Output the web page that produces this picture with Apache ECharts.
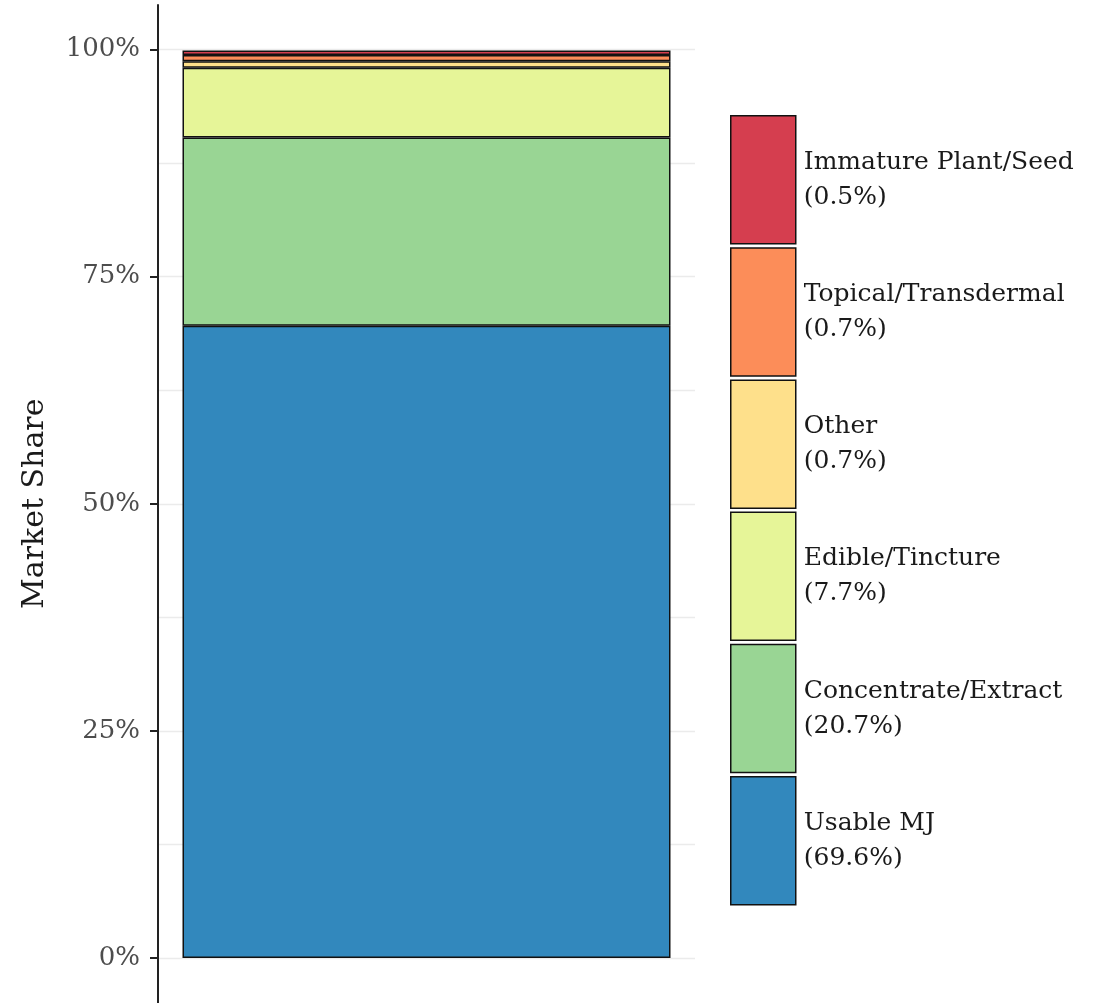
<!DOCTYPE html>
<html><head><meta charset="utf-8">
<script src="https://cdn.jsdelivr.net/npm/echarts@6/dist/echarts.min.js"></script>
<style>html,body{margin:0;padding:0;background:#fff}#c{width:1094px;height:1003px}</style>
</head><body><div id="c"></div>
<script>
const categories = ['Usable MJ', 'Concentrate/Extract', 'Edible/Tincture', 'Other', 'Topical/Transdermal', 'Immature Plant/Seed'];
const shares = [69.6, 20.7, 7.7, 0.7, 0.7, 0.5];
const colors = ['#3288bd', '#99d594', '#e6f598', '#fee08b', '#fc8d59', '#d53e4f'];
const tickValues = [0, 25, 50, 75, 100];

const font = '"DejaVu Serif", "Liberation Serif", serif';
const chart = echarts.init(document.getElementById('c'), null, {renderer: 'canvas'});

const series = categories.map((name, i) => ({
  name: name,
  type: 'bar',
  stack: 'all',
  xAxisIndex: 0, yAxisIndex: 0,
  barWidth: 488,
  data: [shares[i]],
  itemStyle: {color: colors[i], borderColor: '#111', borderWidth: 1.5},
  emphasis: {disabled: true},
  z: 3
}));

const gridStyle = {color: '#ebebeb', width: 1.4};

chart.setOption({
  animation: false,
  backgroundColor: '#fff',
  grid: [
    {left: 158, right: 399, top: 49.5, bottom: 45, containLabel: false},
    {left: 158, right: 399, top: 5, bottom: 0, containLabel: false}
  ],
  xAxis: [
    {gridIndex: 0, type: 'category', data: ['All'], axisLine: {show: false}, axisTick: {show: false}, axisLabel: {show: false}},
    {gridIndex: 1, type: 'category', data: ['All'], axisLine: {show: false}, axisTick: {show: false}, axisLabel: {show: false}}
  ],
  yAxis: [
    {
      gridIndex: 0, type: 'value', min: 0, max: 100, interval: 25,
      name: 'Market Share', nameLocation: 'middle', nameGap: 108,
      nameTextStyle: {fontFamily: font, fontSize: 30, color: '#1a1a1a'},
      axisLine: {show: false},
      axisTick: {show: true, length: 8, lineStyle: {color: '#222', width: 2}},
      axisLabel: {
        margin: 18,
        fontFamily: font, fontSize: 26, color: '#4d4d4d',
        formatter: v => v + '%'
      },
      splitLine: {show: true, lineStyle: gridStyle},
      minorTick: {show: false, splitNumber: 2},
      minorSplitLine: {show: true, lineStyle: gridStyle}
    },
    {
      gridIndex: 1, type: 'value', min: 0, max: 1,
      axisLine: {show: true, lineStyle: {color: '#222', width: 2}},
      axisTick: {show: false}, axisLabel: {show: false}, splitLine: {show: false}
    }
  ],
  legend: {
    orient: 'vertical', left: 730, top: 115, padding: 0,
    itemWidth: 65, itemHeight: 128, itemGap: 2.7,
    icon: 'rect',
    data: categories.slice().reverse(),
    selectedMode: false,
    itemStyle: {borderColor: '#111', borderWidth: 1.5},
    formatter: name => name + '\n(' + shares[categories.indexOf(name)] + '%)',
    textStyle: {fontFamily: font, fontSize: 25, lineHeight: 35, color: '#1a1a1a', padding: [0, 0, 0, 3]}
  },
  series: series
});
</script></body></html>
